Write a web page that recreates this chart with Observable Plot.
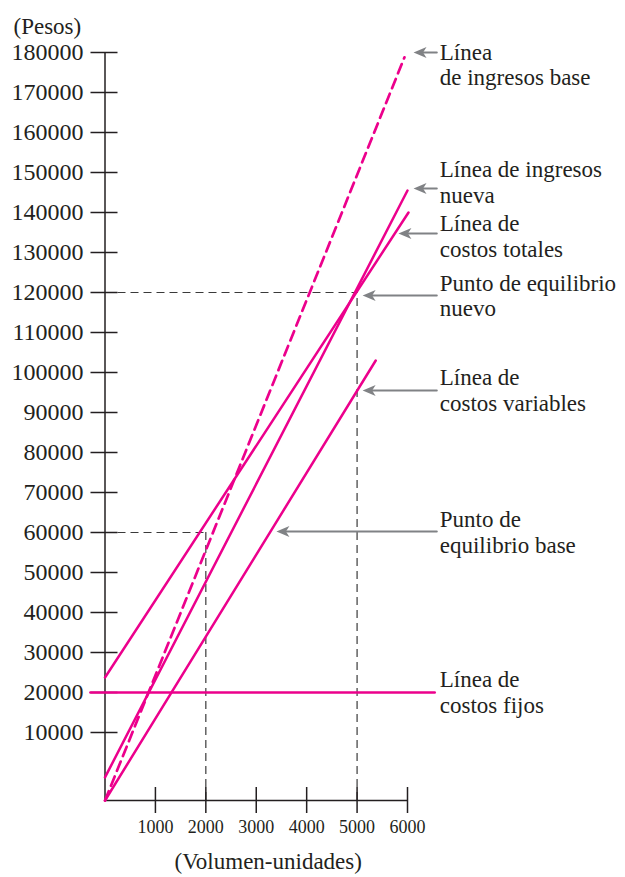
<!DOCTYPE html>
<html>
<head>
<meta charset="utf-8">
<script src="https://cdn.jsdelivr.net/npm/d3@7"></script>
<script src="https://cdn.jsdelivr.net/npm/@observablehq/plot@0.6"></script>
<style>
  html, body { margin: 0; padding: 0; background: #fff; }
</style>
</head>
<body>
<div id="chart"></div>
<script>
// ---- Data ----
const xTicks = [1000, 2000, 3000, 4000, 5000, 6000];
const yTicks = [10000, 20000, 30000, 40000, 50000, 60000, 70000, 80000, 90000,
                100000, 110000, 120000, 130000, 140000, 150000, 160000, 170000, 180000];
const yAxisLabel = "(Pesos)";
const xAxisLabel = "(Volumen-unidades)";

// Lines (units, pesos)
const fixedCostX = [-290, 6540];
const fixedCostY = [20000, 20000];
const totalCostX = [0, 6020];
const totalCostY = [23750, 140000];
const variableCostX = [0, 5370];
const variableCostY = [0, 103000];
const revenueNewX = [0, 6000];
const revenueNewY = [3400, 145500];
const revenueBaseX = [0, 5940];
const revenueBaseY = [0, 178800];

// Break-even points
const breakEvenX = [2000, 5000];
const breakEvenY = [60000, 120000];

// Annotations
const annotationLabels = [
  "Línea\nde ingresos base",
  "Línea de ingresos\nnueva",
  "Línea de\ncostos totales",
  "Punto de equilibrio\nnuevo",
  "Línea de\ncostos variables",
  "Punto de\nequilibrio base",
  "Línea de\ncostos fijos"
];
const annotationBaselineY = [178600, 149250, 135750, 120875, 97250, 61750, 21750];
const arrowTipX = [6120, 6120, 5820, 5110, 5110, 3400, null];
const arrowY = [180000, 146000, 134750, 119250, 95500, 60250, null];
const annotationX = 6640;
const arrowTailX = 6580;

// ---- Build tables ----
const solidLines = [
  ["fijos", fixedCostX, fixedCostY],
  ["totales", totalCostX, totalCostY],
  ["variables", variableCostX, variableCostY],
  ["ingresos nueva", revenueNewX, revenueNewY]
].flatMap(([name, xs, ys]) => xs.map((x, i) => ({name, x, y: ys[i]})));
const dashedLine = revenueBaseX.map((x, i) => ({x, y: revenueBaseY[i]}));
const breakEven = breakEvenX.map((x, i) => ({x, y: breakEvenY[i]}));
const annotations = annotationLabels.map((label, i) => ({
  label, y: annotationBaselineY[i], tipX: arrowTipX[i], arrowY: arrowY[i]
}));
const arrows = annotations.filter(d => d.tipX != null);

const MAGENTA = "#ec008c";
const GRAY = "#808285";
const INK = "#231f20";
const SERIF = "'Liberation Serif', 'Times New Roman', serif";

const arrowHead = {
  draw(ctx) {
    ctx.moveTo(0, 0);
    ctx.lineTo(13, -5.5);
    ctx.lineTo(9.5, 0);
    ctx.lineTo(13, 5.5);
    ctx.closePath();
  }
};

const chart = Plot.plot({
  width: 625,
  height: 877,
  marginLeft: 104.5,
  marginRight: 218,
  marginTop: 52,
  marginBottom: 77,
  x: {type: "linear", domain: [0, 6000]},
  y: {type: "linear", domain: [0, 10000, 180000], range: [800, 732, 52]},
  style: {fontFamily: SERIF, color: INK, background: "white", overflow: "visible"},
  marks: [
    // dashed guide lines to break-even points
    Plot.ruleY(breakEven, {x1: 0, x2: "x", y: "y", stroke: "#3a3a3a", strokeWidth: 1.2, strokeDasharray: "8,5"}),
    Plot.ruleX(breakEven, {x: "x", y1: 0, y2: "y", stroke: "#3a3a3a", strokeWidth: 1.2, strokeDasharray: "8,5"}),
    // axes
    Plot.ruleX([0], {y1: 0, y2: 180000, stroke: INK, strokeWidth: 1.5}),
    Plot.ruleY([0], {x1: 0, x2: 6000, stroke: INK, strokeWidth: 1.5}),
    Plot.axisY({ticks: yTicks, tickSize: 27, dx: 13, tickPadding: 7.5, fontSize: 24,
                tickFormat: d => String(d), label: null, stroke: INK, strokeWidth: 1.5, fill: INK,
                fontFamily: SERIF}),
    Plot.axisX({ticks: xTicks, tickSize: 26, dy: -13, tickPadding: 7, fontSize: 18,
                tickFormat: d => String(d), label: null, stroke: INK, strokeWidth: 1.5, fill: INK,
                fontFamily: SERIF}),
    // cost / revenue lines
    Plot.line(solidLines, {x: "x", y: "y", z: "name", stroke: MAGENTA, strokeWidth: 2.5}),
    Plot.line(dashedLine, {x: "x", y: "y", stroke: MAGENTA, strokeWidth: 2.7, strokeDasharray: "10,6"}),
    // annotation arrows
    Plot.arrow(arrows, {x1: arrowTailX, x2: "tipX", y1: "arrowY", y2: "arrowY", stroke: GRAY,
                        strokeWidth: 2.2, headLength: 0, insetEnd: 6}),
    Plot.dot(arrows, {x: "tipX", y: "arrowY", symbol: arrowHead, fill: GRAY, stroke: "none", r: 5}),
    // annotation text
    Plot.text(annotations, {x: annotationX, y: "y", text: "label", textAnchor: "start",
                            lineAnchor: "top", dy: -16.3, fontSize: 23, lineHeight: 1.11,
                            fill: INK, fontFamily: SERIF}),
    // axis titles
    Plot.text([yAxisLabel], {frameAnchor: "top-left", dx: -91.5, dy: -26, textAnchor: "start",
                             lineAnchor: "middle", fontSize: 23, fill: INK, fontFamily: SERIF}),
    Plot.text([xAxisLabel], {frameAnchor: "bottom", dx: 12, dy: 61, textAnchor: "middle",
                             lineAnchor: "middle", fontSize: 23, fill: INK, fontFamily: SERIF})
  ]
});
document.getElementById("chart").appendChild(chart);
</script>
</body>
</html>
